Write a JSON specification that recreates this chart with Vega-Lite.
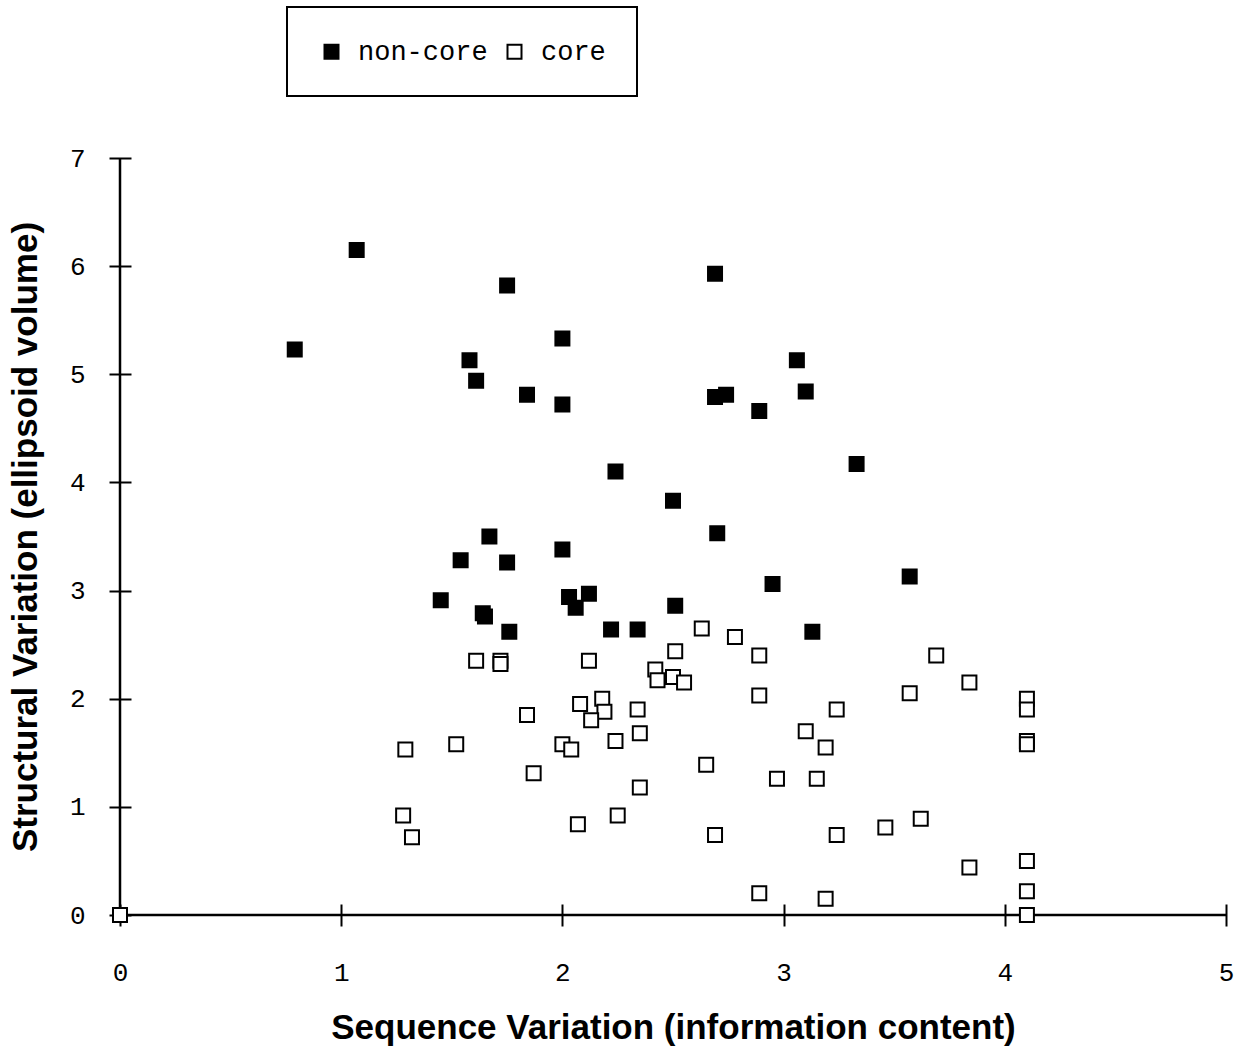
{
  "$schema": "https://vega.github.io/schema/vega-lite/v6.json",
  "width": 1106,
  "height": 757,
  "autosize": {"type": "none"},
  "padding": {"left": 120, "top": 158, "right": 25, "bottom": 135},
  "background": "white",
  "config": {"view": {"stroke": null}, "legend": {"strokeWidth": 2}},
  "layer": [
    {
      "data": {"values": [{}]},
      "mark": {"type": "rule", "color": "black", "strokeWidth": 2.5},
      "encoding": {"y": {"datum": 0, "type": "quantitative"}}
    },
    {
      "data": {"values": [{}]},
      "mark": {"type": "rule", "color": "black", "strokeWidth": 2.5},
      "encoding": {"x": {"datum": 0, "type": "quantitative"}}
    },
    {
      "data": {
        "values": [
          {"seq": 0.79, "struct": 5.23, "type": "non-core"},
          {"seq": 1.07, "struct": 6.15, "type": "non-core"},
          {"seq": 1.75, "struct": 5.82, "type": "non-core"},
          {"seq": 1.58, "struct": 5.13, "type": "non-core"},
          {"seq": 1.61, "struct": 4.94, "type": "non-core"},
          {"seq": 1.84, "struct": 4.81, "type": "non-core"},
          {"seq": 2.0, "struct": 5.33, "type": "non-core"},
          {"seq": 2.0, "struct": 4.72, "type": "non-core"},
          {"seq": 2.24, "struct": 4.1, "type": "non-core"},
          {"seq": 2.69, "struct": 5.93, "type": "non-core"},
          {"seq": 2.69, "struct": 4.79, "type": "non-core"},
          {"seq": 2.74, "struct": 4.81, "type": "non-core"},
          {"seq": 2.89, "struct": 4.66, "type": "non-core"},
          {"seq": 3.06, "struct": 5.13, "type": "non-core"},
          {"seq": 3.1, "struct": 4.84, "type": "non-core"},
          {"seq": 3.33, "struct": 4.17, "type": "non-core"},
          {"seq": 2.5, "struct": 3.83, "type": "non-core"},
          {"seq": 2.7, "struct": 3.53, "type": "non-core"},
          {"seq": 1.67, "struct": 3.5, "type": "non-core"},
          {"seq": 1.54, "struct": 3.28, "type": "non-core"},
          {"seq": 1.75, "struct": 3.26, "type": "non-core"},
          {"seq": 2.0, "struct": 3.38, "type": "non-core"},
          {"seq": 1.45, "struct": 2.91, "type": "non-core"},
          {"seq": 1.64, "struct": 2.79, "type": "non-core"},
          {"seq": 1.65, "struct": 2.76, "type": "non-core"},
          {"seq": 1.76, "struct": 2.62, "type": "non-core"},
          {"seq": 2.03, "struct": 2.94, "type": "non-core"},
          {"seq": 2.12, "struct": 2.97, "type": "non-core"},
          {"seq": 2.06, "struct": 2.84, "type": "non-core"},
          {"seq": 2.22, "struct": 2.64, "type": "non-core"},
          {"seq": 2.34, "struct": 2.64, "type": "non-core"},
          {"seq": 2.51, "struct": 2.86, "type": "non-core"},
          {"seq": 2.95, "struct": 3.06, "type": "non-core"},
          {"seq": 3.13, "struct": 2.62, "type": "non-core"},
          {"seq": 3.57, "struct": 3.13, "type": "non-core"},
          {"seq": 0.0, "struct": 0.0, "type": "core"},
          {"seq": 2.63, "struct": 2.65, "type": "core"},
          {"seq": 2.78, "struct": 2.57, "type": "core"},
          {"seq": 2.51, "struct": 2.44, "type": "core"},
          {"seq": 2.89, "struct": 2.4, "type": "core"},
          {"seq": 1.61, "struct": 2.35, "type": "core"},
          {"seq": 1.72, "struct": 2.35, "type": "core"},
          {"seq": 1.72, "struct": 2.32, "type": "core"},
          {"seq": 2.12, "struct": 2.35, "type": "core"},
          {"seq": 2.42, "struct": 2.27, "type": "core"},
          {"seq": 2.43, "struct": 2.17, "type": "core"},
          {"seq": 2.5, "struct": 2.2, "type": "core"},
          {"seq": 2.55, "struct": 2.15, "type": "core"},
          {"seq": 2.89, "struct": 2.03, "type": "core"},
          {"seq": 2.08, "struct": 1.95, "type": "core"},
          {"seq": 2.18, "struct": 2.0, "type": "core"},
          {"seq": 2.19, "struct": 1.88, "type": "core"},
          {"seq": 2.13, "struct": 1.8, "type": "core"},
          {"seq": 2.34, "struct": 1.9, "type": "core"},
          {"seq": 1.84, "struct": 1.85, "type": "core"},
          {"seq": 2.35, "struct": 1.68, "type": "core"},
          {"seq": 2.24, "struct": 1.61, "type": "core"},
          {"seq": 2.0, "struct": 1.58, "type": "core"},
          {"seq": 2.04, "struct": 1.53, "type": "core"},
          {"seq": 1.52, "struct": 1.58, "type": "core"},
          {"seq": 1.29, "struct": 1.53, "type": "core"},
          {"seq": 3.1, "struct": 1.7, "type": "core"},
          {"seq": 2.65, "struct": 1.39, "type": "core"},
          {"seq": 1.87, "struct": 1.31, "type": "core"},
          {"seq": 2.35, "struct": 1.18, "type": "core"},
          {"seq": 2.97, "struct": 1.26, "type": "core"},
          {"seq": 3.15, "struct": 1.26, "type": "core"},
          {"seq": 1.28, "struct": 0.92, "type": "core"},
          {"seq": 1.32, "struct": 0.72, "type": "core"},
          {"seq": 2.07, "struct": 0.84, "type": "core"},
          {"seq": 2.25, "struct": 0.92, "type": "core"},
          {"seq": 2.69, "struct": 0.74, "type": "core"},
          {"seq": 2.89, "struct": 0.2, "type": "core"},
          {"seq": 3.69, "struct": 2.4, "type": "core"},
          {"seq": 3.84, "struct": 2.15, "type": "core"},
          {"seq": 3.57, "struct": 2.05, "type": "core"},
          {"seq": 4.1, "struct": 2.0, "type": "core"},
          {"seq": 4.1, "struct": 1.9, "type": "core"},
          {"seq": 4.1, "struct": 1.61, "type": "core"},
          {"seq": 4.1, "struct": 1.58, "type": "core"},
          {"seq": 3.24, "struct": 1.9, "type": "core"},
          {"seq": 3.19, "struct": 1.55, "type": "core"},
          {"seq": 3.24, "struct": 0.74, "type": "core"},
          {"seq": 3.46, "struct": 0.81, "type": "core"},
          {"seq": 3.62, "struct": 0.89, "type": "core"},
          {"seq": 3.84, "struct": 0.44, "type": "core"},
          {"seq": 4.1, "struct": 0.5, "type": "core"},
          {"seq": 4.1, "struct": 0.22, "type": "core"},
          {"seq": 3.19, "struct": 0.15, "type": "core"},
          {"seq": 4.1, "struct": 0.0, "type": "core"}
        ]
      },
      "mark": {"type": "point", "shape": "square", "filled": true, "stroke": "black", "strokeWidth": 2, "size": 196, "opacity": 1},
      "encoding": {
        "x": {
          "field": "seq", "type": "quantitative",
          "scale": {"domain": [0, 5], "nice": false, "zero": false},
          "axis": {
            "values": [0, 1, 2, 3, 4, 5], "format": "d", "offset": -11, "tickSize": 22, "domain": false, "grid": false,
            "tickColor": "black", "tickWidth": 2, "labelFont": "Liberation Mono", "labelFontSize": 26,
            "labelColor": "black", "labelPadding": 33, "labelFlush": false, "labelOverlap": false,
            "title": "Sequence Variation (information content)", "titleFont": "Liberation Sans",
            "titleFontSize": 35, "titleFontWeight": "bold", "titleColor": "black", "titlePadding": 25
          }
        },
        "y": {
          "field": "struct", "type": "quantitative",
          "scale": {"domain": [0, 7], "nice": false, "zero": false},
          "axis": {
            "values": [0, 1, 2, 3, 4, 5, 6, 7], "format": "d", "offset": -11, "tickSize": 22, "domain": false, "grid": false,
            "tickColor": "black", "tickWidth": 2, "labelFont": "Liberation Mono", "labelFontSize": 26,
            "labelColor": "black", "labelPadding": 24, "labelFlush": false, "labelOverlap": false,
            "title": "Structural Variation (ellipsoid volume)", "titleFont": "Liberation Sans",
            "titleFontSize": 35, "titleFontWeight": "bold", "titleColor": "black", "titlePadding": 26
          }
        },
        "fill": {
          "field": "type", "type": "nominal",
          "scale": {"domain": ["non-core", "core"], "range": ["black", "white"]},
          "legend": {
            "orient": "none", "legendX": 167, "legendY": -151, "direction": "horizontal", "title": null,
            "columns": 2, "gridAlign": "all",
            "strokeColor": "black", "fillColor": "white", "padding": 31,
            "labelFont": "Liberation Mono", "labelFontSize": 27, "labelColor": "black",
            "symbolSize": 196, "symbolType": "square", "symbolStrokeColor": "black", "symbolStrokeWidth": 2,
            "labelOffset": 13, "columnPadding": 13
          }
        }
      }
    }
  ]
}
